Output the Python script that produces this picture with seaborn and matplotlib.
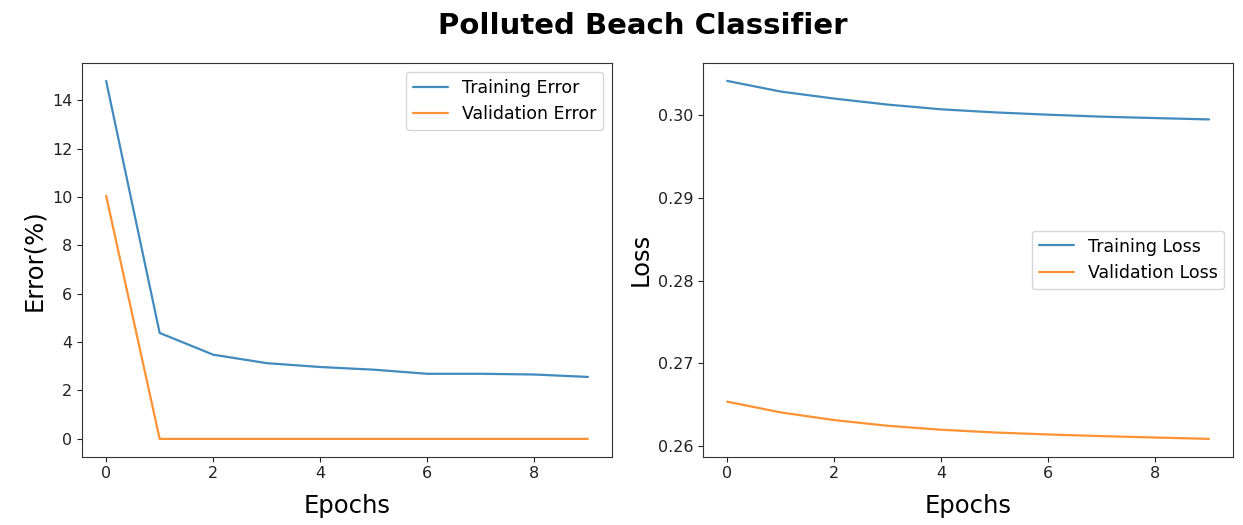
import matplotlib
matplotlib.use("Agg")
import matplotlib.pyplot as plt
import seaborn as sns
import pandas as pd

# datos
epochs = list(range(10))
train_error = [14.8, 4.38, 3.48, 3.13, 2.97, 2.86, 2.69, 2.69, 2.66, 2.56]
val_error = [10.05, 0, 0, 0, 0, 0, 0, 0, 0, 0]
train_loss = [0.30417, 0.30288, 0.30203, 0.30130, 0.30073, 0.30036, 0.30008, 0.29984, 0.29967, 0.29951]
val_loss = [0.26535, 0.26405, 0.26312, 0.26243, 0.26195, 0.26162, 0.26138, 0.26118, 0.26101, 0.26085]

df_err = pd.DataFrame({
    "Epochs": epochs * 2,
    "valor": train_error + val_error,
    "serie": ["Training Error"] * 10 + ["Validation Error"] * 10,
})
df_loss = pd.DataFrame({
    "Epochs": epochs * 2,
    "valor": train_loss + val_loss,
    "serie": ["Training Loss"] * 10 + ["Validation Loss"] * 10,
})

sns.set_style("ticks")
plt.rcParams["font.family"] = ["DejaVu Sans"]
plt.rcParams["text.color"] = "black"
plt.rcParams["axes.labelcolor"] = "black"
colores = ["#1f77b4", "#ff7f0e"]

fig, (ax1, ax2) = plt.subplots(1, 2, figsize=(12.43, 5.25), dpi=100)
fig.subplots_adjust(left=0.066, right=0.992, top=0.88, bottom=0.13, wspace=0.172)

sns.lineplot(data=df_err, x="Epochs", y="valor", hue="serie", palette=colores, ax=ax1,
             linewidth=1.6, alpha=0.85)
ax1.set_xlabel("Epochs", fontsize=17.5, labelpad=9)
ax1.set_ylabel("Error(%)", fontsize=17.5)
ax1.set_yticks([0, 2, 4, 6, 8, 10, 12, 14])
ax1.legend(loc="upper right", fontsize=12.5)

sns.lineplot(data=df_loss, x="Epochs", y="valor", hue="serie", palette=colores, ax=ax2,
             linewidth=1.6, alpha=0.85)
ax2.set_xlabel("Epochs", fontsize=17.5, labelpad=9)
ax2.set_ylabel("Loss", fontsize=17.5)
ax2.set_yticks([0.26, 0.27, 0.28, 0.29, 0.30])
ax2.set_yticklabels(["0.26", "0.27", "0.28", "0.29", "0.30"])
ax2.legend(loc="center right", fontsize=12.5)

for ax in (ax1, ax2):
    ax.set_xticks([0, 2, 4, 6, 8])
    ax.tick_params(labelsize=11.5, colors="#222222")
    for s in ax.spines.values():
        s.set_color("#333333")

fig.suptitle("Polluted Beach Classifier", fontsize=21, fontweight="bold", x=0.517, y=0.978)
fig.savefig("out.png")
